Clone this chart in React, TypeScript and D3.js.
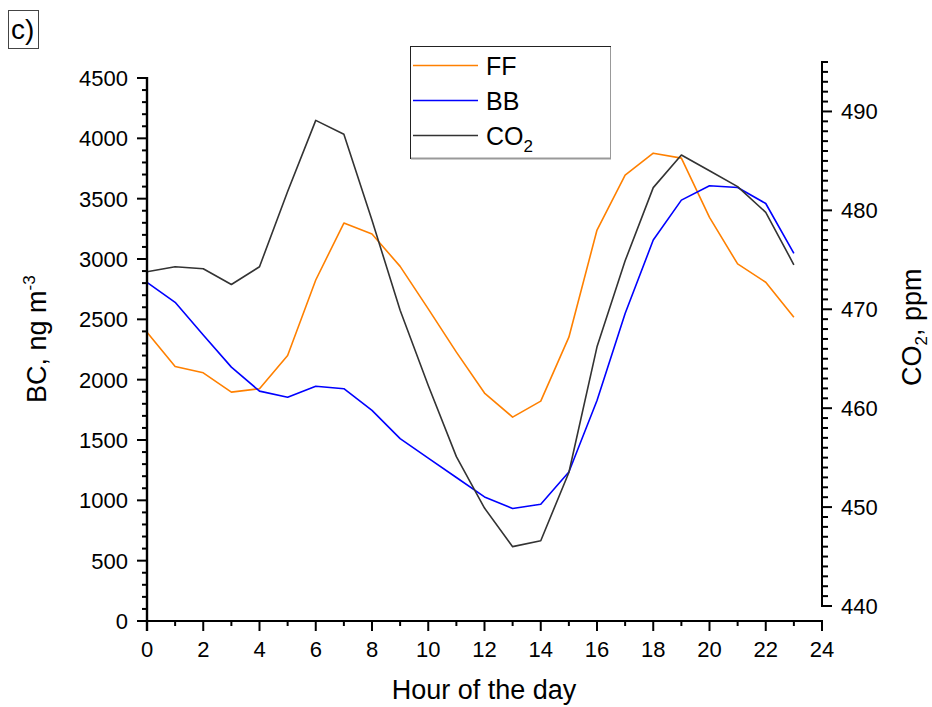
import React from 'react'
import * as d3 from 'd3'

// hour of the day
const hours = [0, 1, 2, 3, 4, 5, 6, 7, 8, 9, 10, 11, 12, 13, 14, 15, 16, 17, 18, 19, 20, 21, 22, 23]
// BC from fossil fuel, ng m-3
const ffValues = [2393, 2109, 2057, 1897, 1925, 2200, 2826, 3298, 3207, 2939, 2587, 2228, 1889, 1690, 1822, 2352, 3240, 3695, 3877, 3836, 3345, 2959, 2807, 2517]
// BC from biomass burning, ng m-3
const bbValues = [2807, 2641, 2371, 2104, 1905, 1855, 1946, 1925, 1745, 1511, 1350, 1189, 1028, 932, 968, 1235, 1828, 2548, 3157, 3488, 3607, 3593, 3460, 3047]
// CO2, ppm (right axis)
const co2Values = [473.8, 474.3, 474.1, 472.5, 474.3, 481.9, 489.1, 487.7, 479.0, 469.9, 462.3, 455.1, 449.9, 446.0, 446.6, 453.5, 466.2, 474.9, 482.3, 485.6, 484.0, 482.4, 479.8, 474.5]

const xTicks = [0, 2, 4, 6, 8, 10, 12, 14, 16, 18, 20, 22, 24]
const leftTicks = [0, 500, 1000, 1500, 2000, 2500, 3000, 3500, 4000, 4500]
const rightTicks = [440, 450, 460, 470, 480, 490]

const FONT = 'Arial, "Liberation Sans", sans-serif'

const App = () => {
  const x = d3.scaleLinear().domain([0, 24]).range([147, 822])
  const yL = d3.scaleLinear().domain([0, 4500]).range([621, 78])
  const yR = d3.scaleLinear().domain([440, 495]).range([606, 62])

  const lineL = (vals: number[]) =>
    d3.line<number>().x((_, i) => x(hours[i])).y((d) => yL(d))(vals) as string
  const lineR = d3.line<number>().x((_, i) => x(hours[i])).y((d) => yR(d))(co2Values) as string

  const xMinor = d3.range(0, 25, 1).filter((v) => v % 2 !== 0)
  const lMinor = d3.range(0, 4501, 100).filter((v) => v % 500 !== 0)
  const rMinor = d3.range(440, 496, 1).filter((v) => v % 10 !== 0)

  const series = [
    { name: 'FF', color: '#FF8000' },
    { name: 'BB', color: '#0000FF' },
    { name: 'CO2', color: '#333333' },
  ]

  return (
    <svg width={932} height={707} style={{ position: 'absolute', left: 0, top: 0, background: '#fff' }} fontFamily={FONT}>
      {/* panel label */}
      <rect x={8.5} y={10.5} width={30} height={38} fill="none" stroke="#444" strokeWidth={1} />
      <text x={11} y={39} fontSize={28}>c)</text>

      {/* data lines */}
      <path d={lineL(ffValues)} fill="none" stroke="#FF8000" strokeWidth={1.6} strokeLinejoin="round" />
      <path d={lineL(bbValues)} fill="none" stroke="#0000FF" strokeWidth={1.6} strokeLinejoin="round" />
      <path d={lineR} fill="none" stroke="#333333" strokeWidth={1.6} strokeLinejoin="round" />

      {/* bottom axis */}
      <line x1={x(0) - 1} x2={x(24) + 1} y1={621} y2={621} stroke="#000" strokeWidth={2} />
      {xTicks.map((t) => (
        <g key={'xt' + t}>
          <line x1={x(t)} x2={x(t)} y1={621} y2={631} stroke="#000" strokeWidth={2} />
          <text x={x(t)} y={657} fontSize={22} textAnchor="middle">{t}</text>
        </g>
      ))}
      {xMinor.map((t) => (
        <line key={'xm' + t} x1={x(t)} x2={x(t)} y1={621} y2={626} stroke="#000" strokeWidth={2} />
      ))}
      <text x={484} y={699} fontSize={27} textAnchor="middle">Hour of the day</text>

      {/* left axis */}
      <line x1={147} x2={147} y1={yL(4500) - 1} y2={631} stroke="#000" strokeWidth={2.4} />
      {leftTicks.map((t) => (
        <g key={'lt' + t}>
          <line x1={137} x2={147} y1={yL(t)} y2={yL(t)} stroke="#000" strokeWidth={2} />
          <text x={128} y={yL(t) + 8} fontSize={22} textAnchor="end">{t}</text>
        </g>
      ))}
      {lMinor.map((t) => (
        <line key={'lm' + t} x1={142} x2={147} y1={yL(t)} y2={yL(t)} stroke="#000" strokeWidth={2} />
      ))}
      <text transform="translate(46,403) rotate(-90)" fontSize={27}>
        BC, ng m<tspan dy={-11} fontSize={17}>-3</tspan>
      </text>

      {/* right axis */}
      <line x1={822} x2={822} y1={yR(495) - 1} y2={yR(440) + 1} stroke="#000" strokeWidth={2} />
      {rightTicks.map((t) => (
        <g key={'rt' + t}>
          <line x1={822} x2={832} y1={yR(t)} y2={yR(t)} stroke="#000" strokeWidth={2} />
          <text x={841} y={yR(t) + 8} fontSize={22}>{t}</text>
        </g>
      ))}
      {rMinor.map((t) => (
        <line key={'rm' + t} x1={822} x2={828} y1={yR(t)} y2={yR(t)} stroke="#000" strokeWidth={2} />
      ))}
      <text transform="translate(921,386) rotate(-90)" fontSize={27}>
        CO<tspan dy={6} fontSize={17}>2</tspan><tspan dy={-6}>, ppm</tspan>
      </text>

      {/* legend */}
      <rect x={410.5} y={46.5} width={200} height={112} fill="#fff" stroke="#222" strokeWidth={1} />
      <line x1={411} x2={611} y1={158.5} y2={158.5} stroke="#999" strokeWidth={2} />
      <line x1={610.5} x2={610.5} y1={47} y2={159} stroke="#999" strokeWidth={1} />
      {series.map((s, i) => (
        <g key={s.name}>
          <line x1={413} x2={478} y1={65.5 + i * 35} y2={65.5 + i * 35} stroke={s.color} strokeWidth={1.6} />
          <text x={486} y={75 + i * 35} fontSize={25}>
            {s.name === 'CO2' ? (
              <>
                CO<tspan dy={7} fontSize={17}>2</tspan>
              </>
            ) : (
              s.name
            )}
          </text>
        </g>
      ))}
    </svg>
  )
}

export default App
